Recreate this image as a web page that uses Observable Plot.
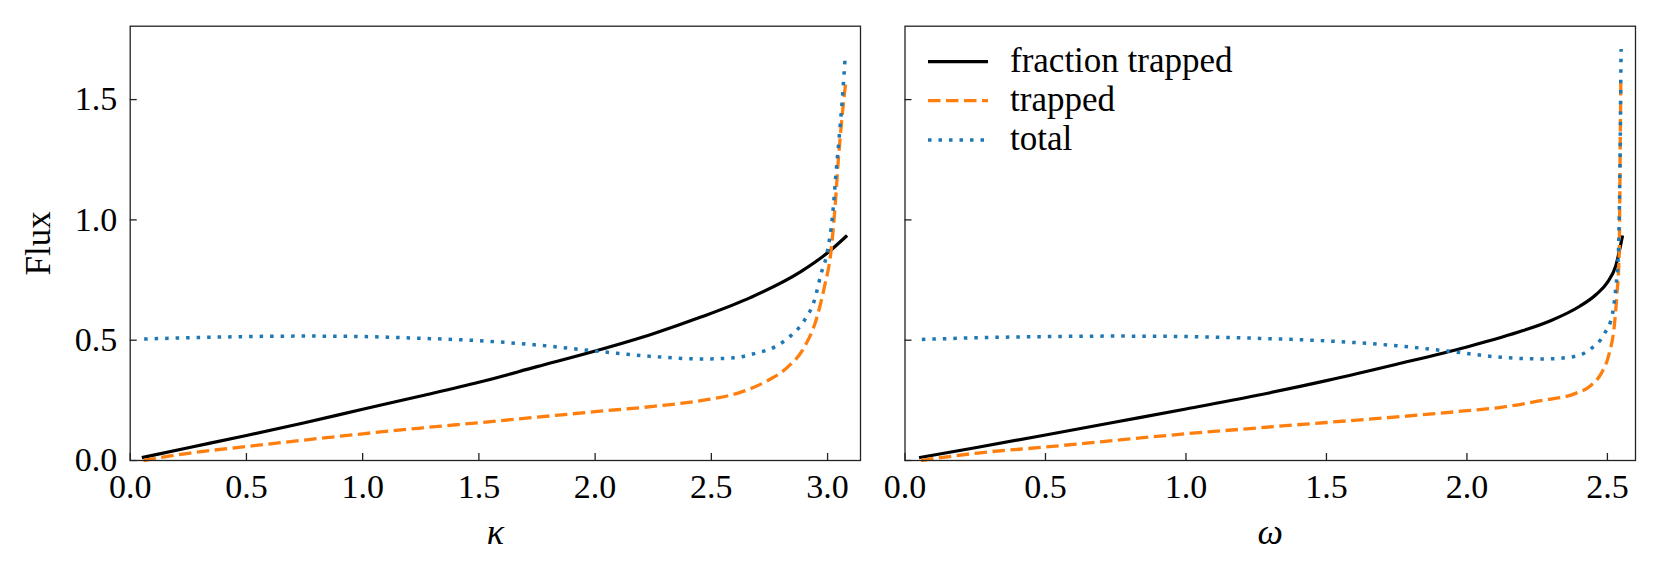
<!DOCTYPE html>
<html><head><meta charset="utf-8">
<script src="https://cdn.jsdelivr.net/npm/d3@7"></script>
<script src="https://cdn.jsdelivr.net/npm/@observablehq/plot@0.6"></script>
<style>
body{margin:0;background:#fff;}
#root{position:relative;width:1662px;height:575px;font-family:"Liberation Serif","Times New Roman",Tinos,"DejaVu Serif",serif;}
#root svg{position:absolute;top:0;}
#root svg text{font-family:"Liberation Serif","Times New Roman",Tinos,"DejaVu Serif",serif;}
</style></head><body><div id="root"></div>
<script>
// ---- data ----
const seriesNames = ["fraction trapped", "trapped", "total"];
const seriesColors = ["#000000", "#ff7f0e", "#1f77b4"];
const yTicks = [0, 0.5, 1.0, 1.5];
const kappaTicks = [0, 0.5, 1.0, 1.5, 2.0, 2.5, 3.0];
const omegaTicks = [0, 0.5, 1.0, 1.5, 2.0, 2.5];

// left panel (kappa)
const kFracX = [0.05,0.25,0.5,0.75,1.0,1.25,1.5,1.75,2.0,2.25,2.455,2.67,2.885,3.0,3.084];
const kFracY = [0.012,0.053,0.104,0.157,0.213,0.268,0.325,0.39,0.455,0.527,0.596,0.678,0.785,0.863,0.935];
const kTrapX = [0.057,0.25,0.5,0.75,1.0,1.25,1.5,1.75,2.0,2.25,2.455,2.627,2.742,2.828,2.9,2.95,2.986,3.015,3.032,3.046,3.065,3.079];
const kTrapY = [0.0,0.03,0.058,0.085,0.111,0.135,0.157,0.18,0.203,0.225,0.249,0.284,0.332,0.388,0.471,0.582,0.72,0.872,1.052,1.246,1.454,1.579];
const kTotX = [0.06,0.25,0.5,0.75,1.0,1.25,1.5,1.75,2.0,2.25,2.469,2.598,2.692,2.771,2.842,2.9,2.943,2.972,2.997,3.022,3.036,3.051,3.065,3.076];
const kTotY = [0.505,0.51,0.515,0.517,0.515,0.508,0.498,0.48,0.455,0.432,0.422,0.427,0.446,0.471,0.519,0.582,0.665,0.776,0.859,1.025,1.191,1.357,1.523,1.683];

// right panel (omega)
const wFracX = [0.05,0.25,0.5,0.75,1.0,1.25,1.5,1.75,2.0,2.2,2.3,2.4,2.46,2.5,2.53,2.554];
const wFracY = [0.012,0.053,0.106,0.16,0.214,0.27,0.332,0.4,0.472,0.54,0.582,0.64,0.69,0.74,0.81,0.935];
const wTrapX = [0.057,0.25,0.5,0.75,1.0,1.25,1.5,1.75,2.0,2.121,2.263,2.382,2.441,2.477,2.506,2.524,2.534,2.542,2.544,2.546,2.548];
const wTrapY = [0.0,0.03,0.056,0.084,0.111,0.135,0.158,0.181,0.207,0.221,0.249,0.277,0.312,0.36,0.443,0.554,0.692,0.859,1.08,1.357,1.592];
const wTotX = [0.06,0.25,0.5,0.75,1.0,1.25,1.5,1.75,1.93,2.121,2.275,2.382,2.441,2.489,2.518,2.530,2.539,2.543,2.546,2.548,2.549];
const wTotY = [0.503,0.51,0.515,0.517,0.515,0.508,0.497,0.477,0.455,0.429,0.422,0.432,0.464,0.526,0.609,0.72,0.859,1.08,1.357,1.634,1.71];

// ---- build ----
const FONT = "'Liberation Serif', 'Times New Roman', Tinos, 'DejaVu Serif', serif";
const toRows = (xs, ys) => xs.map((x, i) => ({x, y: ys[i]}));
const styles = [
  {stroke: seriesColors[0], strokeWidth: 3.2},
  {stroke: seriesColors[1], strokeWidth: 3.3, strokeDasharray: "12.5,5.5"},
  {stroke: seriesColors[2], strokeWidth: 3.5, strokeDasharray: "3.5,7"}
];
const fmt = d3.format(".1f");

function panel({width, marginLeft, marginRight, xDomain, xTicks, xLabel, series, yLabels}) {
  const marks = series.map((rows, i) => Plot.line(rows, {x: "x", y: "y", curve: "monotone-x", strokeLinecap: "butt", ...styles[i]}));
  marks.push(
    Plot.frame({stroke: "#222", strokeWidth: 1.3}),
    Plot.axisX(xTicks, {tickSize: -7, tickPadding: 20, tickFormat: fmt, stroke: "#222", strokeWidth: 1.3, fontSize: 34, label: null}),
    Plot.axisY(yTicks, {tickSize: -7, tickPadding: 20, tickFormat: yLabels ? fmt : () => null, stroke: "#222", strokeWidth: 1.3, fontSize: 34, label: null}),
    Plot.text([xLabel], {frameAnchor: "bottom", dy: 72, textAnchor: "middle", lineAnchor: "middle", fontStyle: "italic", fontSize: 36})
  );
  if (yLabels) marks.push(Plot.text(["Flux"], {frameAnchor: "left", dx: -91, rotate: -90, textAnchor: "middle", lineAnchor: "middle", fontSize: 35}));
  return Plot.plot({
    width, height: 575, marginLeft, marginRight, marginTop: 25.7, marginBottom: 115,
    x: {domain: xDomain}, y: {domain: [0, 1.805]},
    style: {fontFamily: FONT, fontSize: "34px", background: "transparent", color: "#000", overflow: "visible"},
    marks
  });
}

const root = document.getElementById("root");
const left = panel({width: 880, marginLeft: 129.7, marginRight: 20, xDomain: [0, 3.1416], xTicks: kappaTicks, xLabel: "κ",
  series: [toRows(kFracX, kFracY), toRows(kTrapX, kTrapY), toRows(kTotX, kTotY)], yLabels: true});
left.style.left = "0px";
root.appendChild(left);
const right = panel({width: 782, marginLeft: 24.5, marginRight: 27, xDomain: [0, 2.6], xTicks: omegaTicks, xLabel: "ω",
  series: [toRows(wFracX, wFracY), toRows(wTrapX, wTrapY), toRows(wTotX, wTotY)], yLabels: false});
right.style.left = "880px";
root.appendChild(right);

// legend (inside right panel, upper left)
const ns = "http://www.w3.org/2000/svg";
const leg = document.createElementNS(ns, "svg");
leg.setAttribute("width", 1662); leg.setAttribute("height", 575);
leg.style.left = "0px"; leg.style.pointerEvents = "none";
const rowY = [61.7, 100.7, 140];
seriesNames.forEach((name, i) => {
  const ln = document.createElementNS(ns, "line");
  ln.setAttribute("x1", 928); ln.setAttribute("x2", 988);
  ln.setAttribute("y1", rowY[i]); ln.setAttribute("y2", rowY[i]);
  ln.setAttribute("stroke", styles[i].stroke);
  ln.setAttribute("stroke-width", styles[i].strokeWidth);
  if (styles[i].strokeDasharray) ln.setAttribute("stroke-dasharray", styles[i].strokeDasharray);
  leg.appendChild(ln);
  const t = document.createElementNS(ns, "text");
  t.setAttribute("x", 1010); t.setAttribute("y", rowY[i] + 10);
  t.setAttribute("font-family", FONT);
  t.setAttribute("font-size", 35);
  t.textContent = name;
  leg.appendChild(t);
});
root.appendChild(leg);
</script></body></html>
